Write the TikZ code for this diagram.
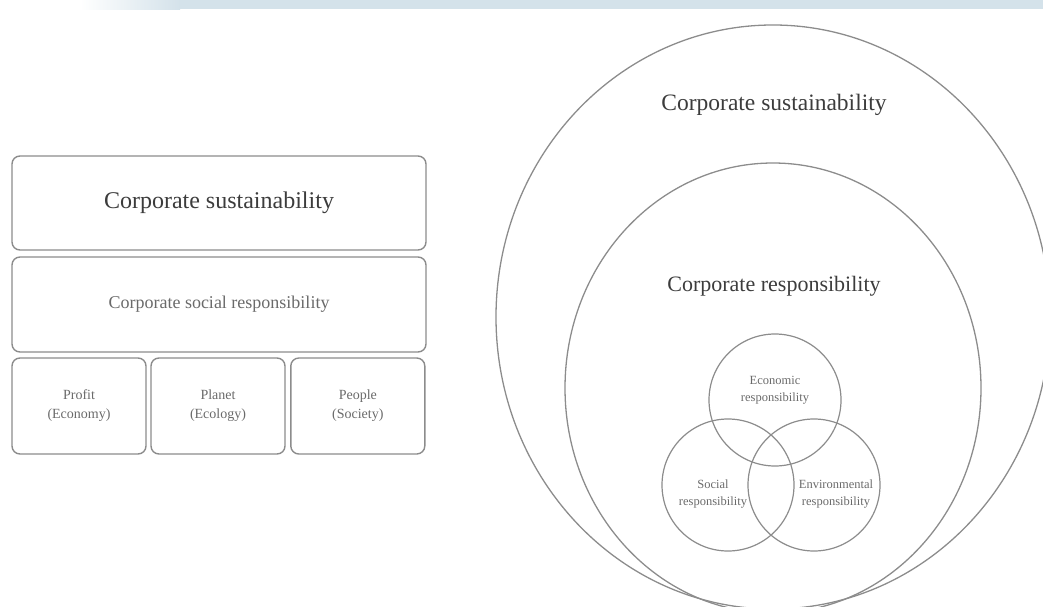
\documentclass[tikz,border=0pt]{standalone}
\usepackage{fontspec}
\setmainfont{Liberation Serif}
\usetikzlibrary{positioning,shapes.geometric}
\definecolor{edgegray}{HTML}{8C8C8C}
\definecolor{textgray}{HTML}{3C3C3C}
\definecolor{softgray}{HTML}{6A6A6A}
\definecolor{stripblue}{HTML}{D4E2EA}
\tikzset{
  layerbox/.style={draw=edgegray, line width=1.4pt, rounded corners=8pt,
    minimum width=414pt, minimum height=94pt, inner sep=0pt, text=textgray},
  pillarbox/.style={draw=edgegray, line width=1.4pt, rounded corners=8pt,
    minimum width=134pt, minimum height=96pt, inner sep=0pt, text=softgray,
    align=center, font=\fontsize{14}{19}\selectfont},
  ring/.style={draw=edgegray, line width=1.3pt, ellipse, inner sep=0pt},
  venn/.style={draw=edgegray, line width=1.2pt, circle, minimum size=132pt, inner sep=0pt},
  vennlabel/.style={text=softgray, align=center, font=\fontsize{12.5}{17}\selectfont},
}

\begin{document}
\begin{tikzpicture}[x=1pt,y=-1pt]
\useasboundingbox (0,0) rectangle (1043,607);
\clip (0,0) rectangle (1043,607);
\shade[left color=white, right color=stripblue] (80,0) rectangle (180,9.5);
\fill[stripblue] (180,0) rectangle (1043,9.5);

% layered view
\node[layerbox, font=\fontsize{24}{28}\selectfont] (sust) at (219,203) {Corporate sustainability};
\node[layerbox, minimum height=95pt, font=\fontsize{18}{22}\selectfont, text=softgray] (csr) [below=5.6pt of sust] {Corporate social responsibility};
\node[pillarbox] (planet) [below=4.6pt of csr, xshift=-1pt] {Planet\\(Ecology)};
\node[pillarbox] (profit) [left=3.6pt of planet] {Profit\\(Economy)};
\node[pillarbox] (people) [right=4.4pt of planet] {People\\(Society)};

% nested view
\node[ring, minimum width=554pt, minimum height=584pt] (outer) at (773,317) {};
\node[ring, minimum width=416pt, minimum height=450pt] (inner) at (773,388) {};
\node[text=textgray, font=\fontsize{23.5}{28}\selectfont] (sustlabel) at (774,105) {Corporate sustainability};
\node[text=textgray, font=\fontsize{22}{26}\selectfont] (resplabel) at (774,286) {Corporate responsibility};

\node[venn] (eco) at (775,400) {};
\node[venn] (soc) at (728,485) {};
\node[venn] (env) at (814,485) {};
\node[vennlabel] at (775,390) {Economic\\responsibility};
\node[vennlabel] at (713,494) {Social\\responsibility};
\node[vennlabel] at (836,494) {Environmental\\responsibility};
\end{tikzpicture}
\end{document}
